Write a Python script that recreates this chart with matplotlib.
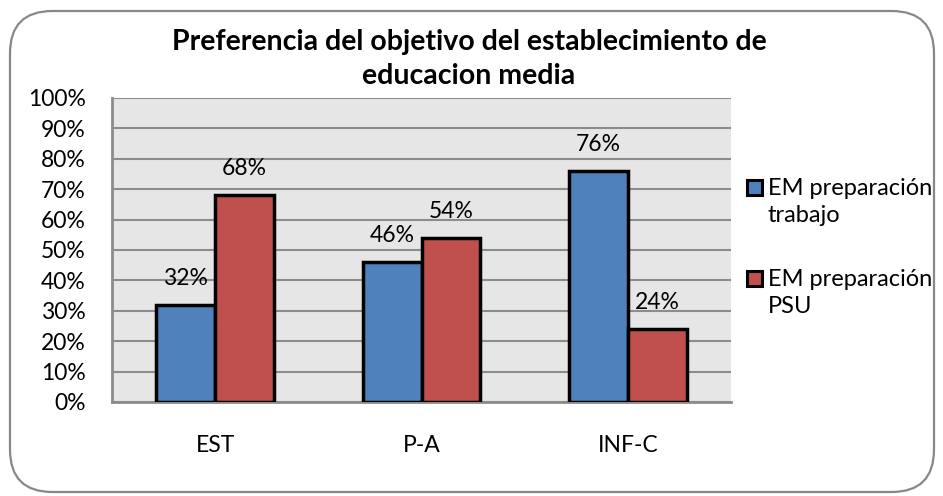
import numpy as np
from matplotlib import pyplot as plt
from matplotlib.patches import FancyBboxPatch, Rectangle

categorias = ["EST", "P-A", "INF-C"]
trabajo = [32, 46, 76]
psu = [68, 54, 24]
series = ["EM preparación\ntrabajo", "EM preparación\nPSU"]
colores = ["#4f81bd", "#c0504d"]
ticks_y = list(range(0, 101, 10))

plt.rcParams['font.family'] = ['Lato', 'DejaVu Sans']

fig = plt.figure(figsize=(9.43, 4.96), dpi=100)
W, H = 943, 496

# marco redondeado
marco = FancyBboxPatch((10 / W, 4 / H), (934 - 10) / W, (485 - 4) / H,
                       boxstyle="round,pad=0,rounding_size=0.045",
                       transform=fig.transFigure, facecolor="white",
                       edgecolor="#888888", linewidth=1.6, zorder=-10,
                       mutation_aspect=W / H)
fig.patches.append(marco)

ax = fig.add_axes([112 / W, 1 - 402 / H, (731 - 112) / W, (402 - 98) / H])
ax.set_facecolor("#e6e6e6")

x = np.arange(len(categorias))
ancho = 0.285
b1 = ax.bar(x - ancho / 2, trabajo, ancho, color=colores[0], edgecolor="black", linewidth=2.5, zorder=3)
b2 = ax.bar(x + ancho / 2, psu, ancho, color=colores[1], edgecolor="black", linewidth=2.5, zorder=3)

for barras, vals in [(b1, trabajo), (b2, psu)]:
    for b, v in zip(barras, vals):
        ax.annotate(f"{v}%", (b.get_x() + b.get_width() / 2, v), xytext=(0, 19),
                    textcoords="offset points", ha="center", va="center", fontsize=16.5)

ax.set_xlim(-0.5, 2.5)
ax.set_ylim(0, 100)
ax.set_yticks(ticks_y)
ax.set_yticklabels([f"{t}%" for t in ticks_y], fontsize=16.5)
ax.set_xticks(x)
ax.set_xticklabels(categorias, fontsize=16.5)
ax.tick_params(axis="x", length=0, pad=24)
ax.tick_params(axis="y", length=0, pad=19)
ax.grid(axis="y", color="#8c8c8c", linewidth=1.5, zorder=0)
ax.set_axisbelow(True)
for s in ["top", "right"]:
    ax.spines[s].set_visible(False)
for s in ["left", "bottom"]:
    ax.spines[s].set_color("#8c8c8c")
    ax.spines[s].set_linewidth(2)

fig.text(469 / W, 1 - 59 / H, "Preferencia del objetivo del establecimiento de\neducacion media",
         ha="center", va="center", fontsize=20.5, fontweight="bold", linespacing=1.4)

# leyenda
for i, (nombre, col) in enumerate(zip(series, colores)):
    yc = 187 + i * 91
    fig.patches.append(Rectangle((747 / W, 1 - (yc + 7.5) / H), 15 / W, 15 / H,
                                 transform=fig.transFigure, facecolor=col,
                                 edgecolor="black", linewidth=2.2))
    fig.text(768 / W, 1 - (yc + 15) / H, nombre, ha="left", va="center",
             fontsize=17, linespacing=1.35)

fig.savefig("out.png", dpi=100)
